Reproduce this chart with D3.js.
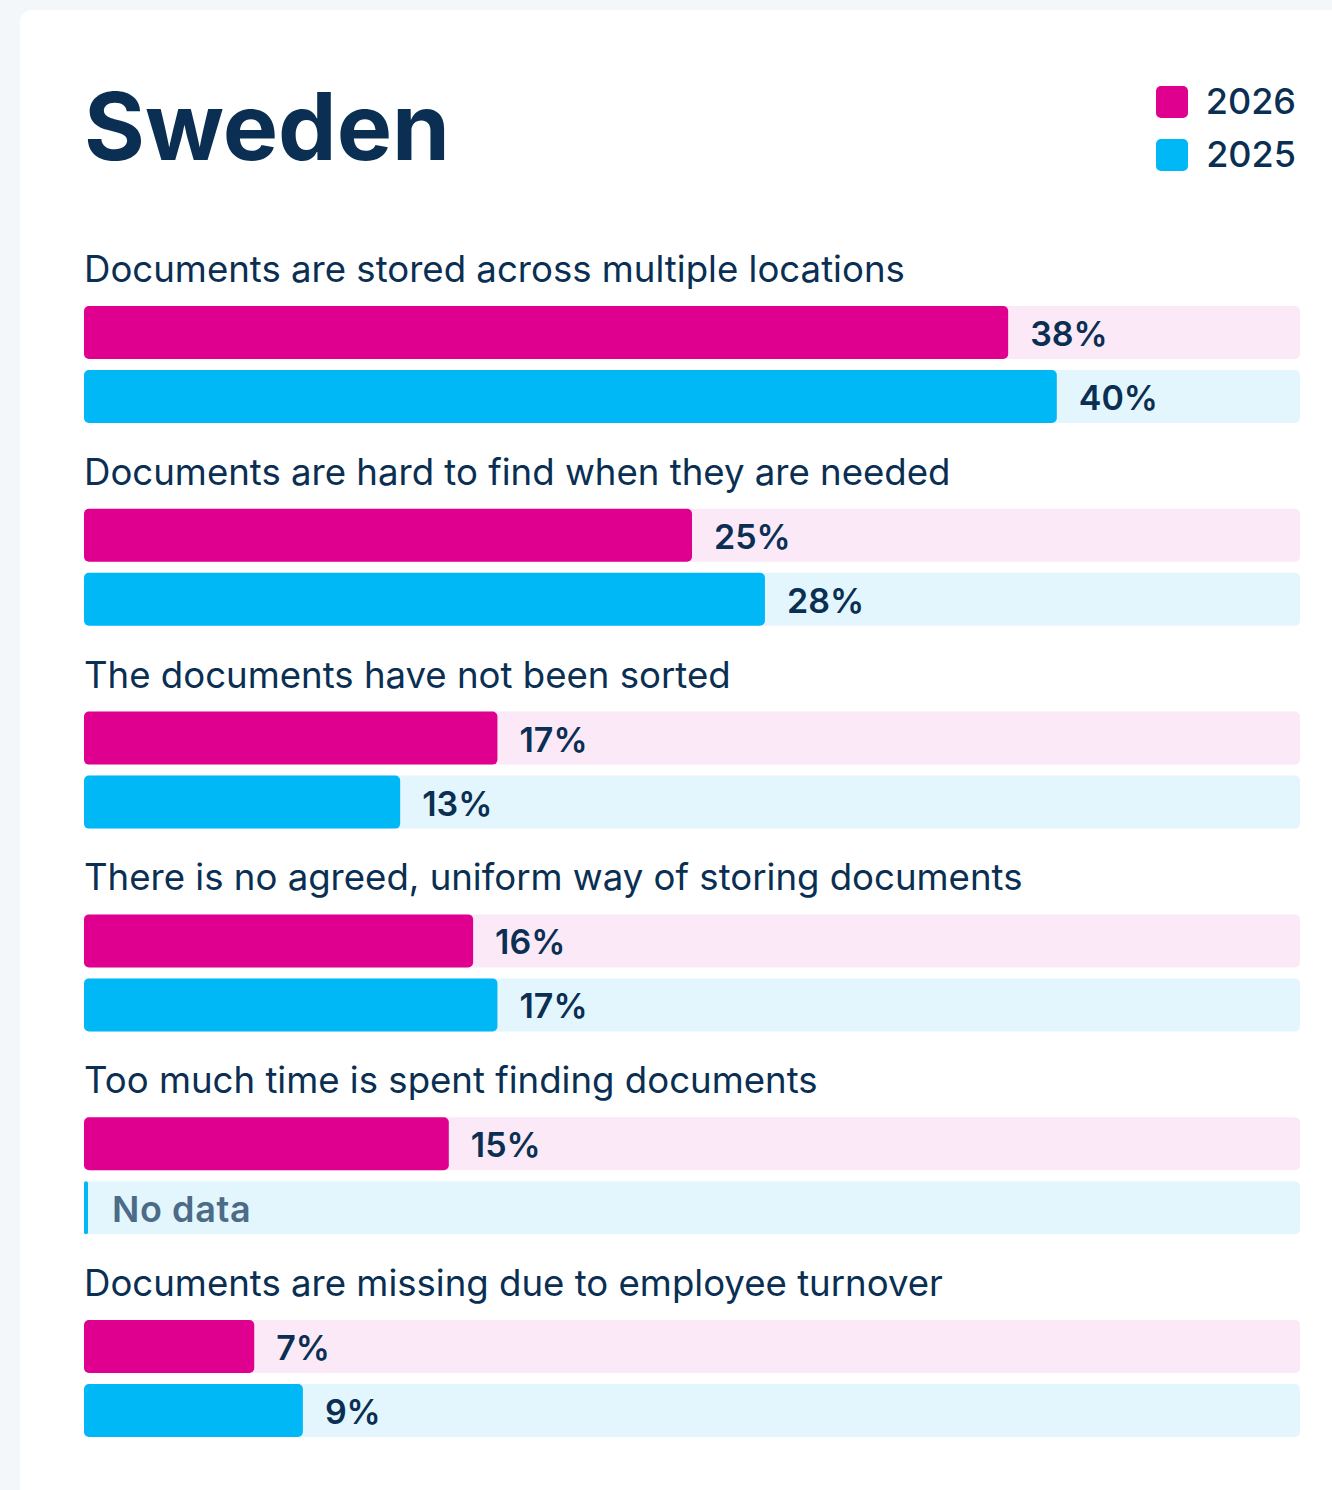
<!DOCTYPE html>
<html>
<head>
<meta charset="utf-8">
<script src="https://cdn.jsdelivr.net/npm/d3@7"></script>
<style>
  html, body { margin: 0; padding: 0; background: #f3f7fa; }
  svg { display: block; }
</style>
</head>
<body>
<div id="chart"></div>
<script>
const title = "Sweden";
const categories = [
  "Documents are stored across multiple locations",
  "Documents are hard to find when they are needed",
  "The documents have not been sorted",
  "There is no agreed, uniform way of storing documents",
  "Too much time is spent finding documents",
  "Documents are missing due to employee turnover"
];
const seriesNames = ["2026", "2025"];
const values2026 = [38, 25, 17, 16, 15, 7];
const values2025 = [40, 28, 13, 17, null, 9];
const noDataLabel = "No data";

const W = 1332, H = 1490;
const navy = "#0a2f53";
const colors = { "2026": "#df0090", "2025": "#00b8f6" };
const tracks = { "2026": "#fbe9f7", "2025": "#e3f6fd" };
const font = "Inter, 'Noto Sans', sans-serif";

const svg = d3.select("#chart").append("svg").attr("width", W).attr("height", H);

// card
svg.append("rect").attr("x", 20).attr("y", 10).attr("width", W).attr("height", H)
  .attr("rx", 12).attr("fill", "#ffffff");

svg.append("text").attr("x", 84).attr("y", 160).text(title)
  .attr("font-family", font).attr("font-weight", 700).attr("font-size", 93)
  .attr("letter-spacing", 0).attr("fill", navy);

// legend
const legendY = d3.scaleBand().domain(seriesNames).range([78, 184]).padding(0);
const lg = svg.append("g").selectAll("g").data(seriesNames).join("g")
  .attr("transform", d => `translate(0,${legendY(d)})`);
lg.append("rect").attr("x", 1156).attr("y", 8).attr("width", 32).attr("height", 32)
  .attr("rx", 5).attr("fill", d => colors[d]);
lg.append("text").attr("x", 1296).attr("y", 23).attr("text-anchor", "end")
  .attr("dominant-baseline", "central").text(d => d)
  .attr("font-family", font).attr("font-weight", 500).attr("font-size", 36).attr("fill", navy);

// scales
const x = d3.scaleLinear().domain([0, 50]).range([84, 1300]);
const gy = d3.scaleBand().domain(categories).range([234, 234 + 6 * 202.8]);
const barY = d3.scaleBand().domain(seriesNames).range([72, 189]).paddingInner(11 / 64).paddingOuter(0);

const rows = categories.map((c, i) => ({
  cat: c,
  bars: [
    { s: "2026", v: values2026[i] },
    { s: "2025", v: values2025[i] }
  ]
}));

const g = svg.append("g").selectAll("g").data(rows).join("g")
  .attr("transform", d => `translate(0,${gy(d.cat)})`);

g.append("text").attr("x", 84).attr("y", 35).attr("dominant-baseline", "central")
  .text(d => d.cat).attr("font-family", font).attr("font-size", 36.6).attr("fill", navy);

const bg = g.selectAll("g.bar").data(d => d.bars).join("g").attr("class", "bar")
  .attr("transform", d => `translate(0,${barY(d.s)})`);
const bh = barY.bandwidth();

bg.append("rect").attr("x", x(0)).attr("y", 0).attr("width", x(50) - x(0)).attr("height", bh)
  .attr("rx", 5).attr("fill", d => tracks[d.s]);

bg.append("rect").attr("x", x(0)).attr("y", 0)
  .attr("width", d => d.v == null ? 4 : x(d.v) - x(0)).attr("height", bh)
  .attr("rx", d => d.v == null ? 2 : 5).attr("fill", d => colors[d.s]);

bg.append("text")
  .attr("x", d => d.v == null ? x(0) + 28 : x(d.v) + 22)
  .attr("y", bh / 2 + 1).attr("dominant-baseline", "central")
  .text(d => d.v == null ? noDataLabel : d.v + "%")
  .attr("font-family", font).attr("font-weight", 600)
  .attr("font-size", d => d.v == null ? 36 : 34)
  .attr("letter-spacing", d => d.v == null ? 0.6 : 0)
  .attr("fill", d => d.v == null ? "#4b6b86" : navy);
</script>
</body>
</html>
